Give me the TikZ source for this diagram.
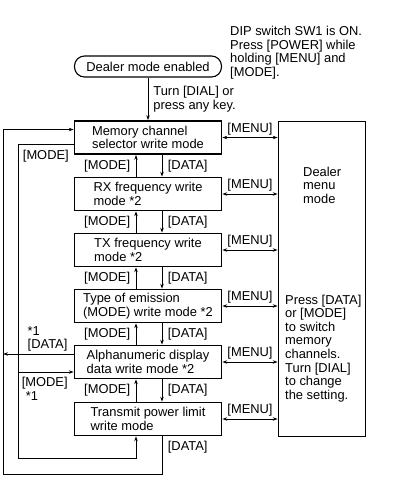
\documentclass[tikz,border=0pt]{standalone}
\usepackage{fontspec}
\setmainfont{Liberation Sans}
\usetikzlibrary{arrows.meta}

\begin{document}
\begin{tikzpicture}[x=1pt,y=-1pt,
  every node/.style={font=\fontsize{12.9pt}{13.6pt}\selectfont},
  modebox/.style={draw,line width=1.6pt,minimum width=147pt,minimum height=33pt,align=left,inner sep=0pt},
  startbox/.style={draw,line width=1.1pt,rounded corners=10pt,minimum width=147pt,minimum height=21pt,inner sep=0pt},
  keylabel/.style={inner sep=2pt,align=left},
  wire/.style={line width=0.8pt,-{Stealth[length=5pt,width=3.4pt]}},
  twowire/.style={line width=0.8pt,{Stealth[length=5pt,width=3.4pt]}-{Stealth[length=5pt,width=3.4pt]}}]
  \useasboundingbox (0,0) rectangle (412,483);
  \node[startbox] (enabled) at (148,66.5) {Dealer mode enabled};
  \node[keylabel,anchor=north west,inner sep=0pt] (dipnote) at (230,26) {DIP switch SW1 is ON.\\Press [POWER] while\\holding [MENU] and\\{}[MODE].};
  \node[modebox] (m1) at (148,137.5) {Memory channel\\selector write mode};
  \node[modebox] (m2) at (148,194) {RX frequency write\\mode *2};
  \node[modebox] (m3) at (148,250) {TX frequency write\\mode *2};
  \node[modebox] (m4) at (148,306) {Type of emission\\(MODE) write mode *2};
  \node[modebox] (m5) at (148,362) {Alphanumeric display\\data write mode *2};
  \node[modebox] (m6) at (148,419) {Transmit power limit\\write mode};
  \node[draw,line width=1.6pt,minimum width=87pt,minimum height=315pt,inner sep=0pt] (menu) at (322,279) {};
  \node[keylabel,anchor=north west,inner sep=0pt] (menutitle) at (303,166.5) {Dealer\\menu\\mode};
  \node[keylabel,anchor=north west,inner sep=0pt] (menuhelp) at (285,294.5) {Press [DATA]\\or [MODE]\\to switch\\memory\\channels.\\Turn [DIAL]\\to change\\the setting.};
  \coordinate (outerbot) at (3,474);
  \coordinate (innerbot) at (18,458);
  \coordinate (d5) at ([yshift=8pt]m5.west);
  \coordinate (r5) at ([yshift=-10pt]m5.west);

  \draw[wire] (enabled) -- node[keylabel,right=3pt] {Turn [DIAL] or\\press any key.} (m1);

  \draw[wire] ([xshift=-12pt]m2.north) -- node[keylabel,left=3.5pt] {[MODE]} ([xshift=-12pt]m1.south);
  \draw[wire] ([xshift=14pt]m1.south) -- node[keylabel,right=3.5pt] {[DATA]} ([xshift=14pt]m2.north);
  \draw[wire] ([xshift=-12pt]m3.north) -- node[keylabel,left=3.5pt] {[MODE]} ([xshift=-12pt]m2.south);
  \draw[wire] ([xshift=14pt]m2.south) -- node[keylabel,right=3.5pt] {[DATA]} ([xshift=14pt]m3.north);
  \draw[wire] ([xshift=-12pt]m4.north) -- node[keylabel,left=3.5pt] {[MODE]} ([xshift=-12pt]m3.south);
  \draw[wire] ([xshift=14pt]m3.south) -- node[keylabel,right=3.5pt] {[DATA]} ([xshift=14pt]m4.north);
  \draw[wire] ([xshift=-12pt]m5.north) -- node[keylabel,left=3.5pt] {[MODE]} ([xshift=-12pt]m4.south);
  \draw[wire] ([xshift=14pt]m4.south) -- node[keylabel,right=3.5pt] {[DATA]} ([xshift=14pt]m5.north);
  \draw[wire] ([xshift=-12pt]m6.north) -- node[keylabel,left=3.5pt] {[MODE]} ([xshift=-12pt]m5.south);
  \draw[wire] ([xshift=14pt]m5.south) -- node[keylabel,right=3.5pt] {[DATA]} ([xshift=14pt]m6.north);

  \draw[twowire] (m1.east) -- node[keylabel,above] {[MENU]} (m1.east -| menu.west);
  \draw[twowire] (m2.east) -- node[keylabel,above] {[MENU]} (m2.east -| menu.west);
  \draw[twowire] (m3.east) -- node[keylabel,above] {[MENU]} (m3.east -| menu.west);
  \draw[twowire] (m4.east) -- node[keylabel,above] {[MENU]} (m4.east -| menu.west);
  \draw[twowire] (m5.east) -- node[keylabel,above] {[MENU]} (m5.east -| menu.west);
  \draw[twowire] (m6.east) -- node[keylabel,above] {[MENU]} (m6.east -| menu.west);

  \draw[wire] ([xshift=14pt]m6.south) |- node[keylabel,pos=0.15,right=3.5pt] {[DATA]} (outerbot) |- ([yshift=8pt]m1.west);
  \draw[wire] ([yshift=-7pt]m1.west) -| node[keylabel,pos=0.25,below=3pt] {[MODE]} (innerbot) -| ([xshift=-12pt]m6.south);
  \draw[wire] (d5) -- node[keylabel,pos=0.37,above] {*1\\{}[DATA]} (d5 -| outerbot);
  \draw[wire] (r5 -| innerbot) -- node[keylabel,pos=0.48,below=3pt] {[MODE]\\\hspace*{4pt}*1} (r5);
\end{tikzpicture}
\end{document}
